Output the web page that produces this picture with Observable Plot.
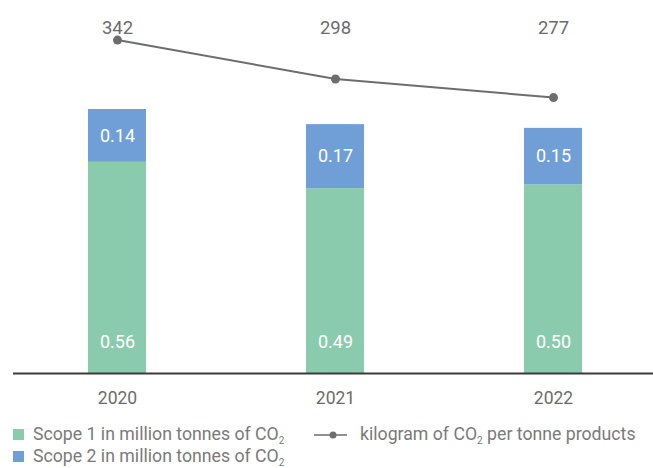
<!DOCTYPE html>
<html>
<head>
<meta charset="utf-8">
<script src="https://cdn.jsdelivr.net/npm/d3@7"></script>
<script src="https://cdn.jsdelivr.net/npm/@observablehq/plot@0.6"></script>
<style>
  html, body { margin: 0; padding: 0; background: #fff; }
  #wrap { position: relative; width: 653px; height: 468px; overflow: hidden; font-family: Roboto, sans-serif; }
  #wrap svg { position: absolute; left: 0; top: 0; }
  .legend { position: absolute; font-size: 17.7px; color: #7a7a7a; white-space: nowrap; line-height: 1; }
  .legend sub { font-size: 10px; vertical-align: -4px; line-height: 0; }
  .sw { position: absolute; width: 11px; height: 11px; }
</style>
</head>
<body>
<div id="wrap"></div>
<script>
const years = ["2020", "2021", "2022"];
const scope1 = [0.56, 0.49, 0.50];
const scope2 = [0.14, 0.17, 0.15];
const kgPerTonne = [342, 298, 277];
const seriesNames = ["Scope 1 in million tonnes of CO2", "Scope 2 in million tonnes of CO2"];
const lineName = "kilogram of CO2 per tonne products";
const colors = ["#8bcbad", "#6f9fd6"];
const lineColor = "#6d6d6d";

const wide = years.map((y, i) => ({year: y, s1: scope1[i], s2: scope2[i], kg: kgPerTonne[i]}));
const rows = years.flatMap((y, i) => [
  {year: y, scope: seriesNames[0], value: scope1[i]},
  {year: y, scope: seriesNames[1], value: scope2[i]}
]);
const fmt = v => v.toFixed(2);

const xScale = {type: "band", domain: years, range: [13.5, 656], paddingInner: 0.734, paddingOuter: 0.335};

const bars = Plot.plot({
  width: 653, height: 410,
  marginLeft: 13, marginRight: 0, marginTop: 0, marginBottom: 37,
  style: {fontFamily: "Roboto, sans-serif", fontSize: "17.5px", color: "#6b6b6b", background: "transparent", overflow: "visible"},
  x: {...xScale, label: null, tickSize: 0, tickPadding: 18},
  y: {domain: [0, 0.952], range: [373, 14], axis: null},
  color: {domain: seriesNames, range: colors},
  marks: [
    Plot.barY(rows, {x: "year", y: "value", fill: "scope"}),
    Plot.ruleY([0], {stroke: "#3a3a3a", strokeWidth: 2}),
    Plot.text(wide, {x: "year", y: d => d.s1 + d.s2 / 2, text: d => fmt(d.s2), fill: "white", fontSize: 18}),
    Plot.text(wide, {x: "year", y: () => 0, dy: -31, text: d => fmt(d.s1), fill: "white", fontSize: 18})
  ]
});

const line = Plot.plot({
  width: 653, height: 410,
  marginLeft: 13, marginRight: 0, marginTop: 0, marginBottom: 37,
  style: {fontFamily: "Roboto, sans-serif", background: "transparent", overflow: "visible"},
  x: {...xScale, axis: null},
  y: {domain: [0, 380], range: [342, 6], axis: null},
  marks: [
    Plot.line(wide, {x: "year", y: "kg", stroke: lineColor, strokeWidth: 2}),
    Plot.dot(wide, {x: "year", y: "kg", r: 4.5, fill: lineColor}),
    Plot.text(wide, {x: "year", frameAnchor: "top", dy: 20, text: d => String(d.kg), fill: "#6b6b6b", fontSize: 18.5})
  ]
});

const wrap = document.getElementById("wrap");
wrap.appendChild(bars);
wrap.appendChild(line);

function sub(name) { return name.replace("CO2", "CO<sub>2</sub>"); }
function addLegendSwatch(color, top, label) {
  const s = document.createElement("div");
  s.className = "sw";
  s.style.left = "13px"; s.style.top = top + "px"; s.style.background = color;
  wrap.appendChild(s);
  const t = document.createElement("div");
  t.className = "legend";
  t.style.left = "33px"; t.style.top = (top - 3) + "px";
  t.innerHTML = sub(label);
  wrap.appendChild(t);
}
addLegendSwatch(colors[0], 429, seriesNames[0]);
addLegendSwatch(colors[1], 451, seriesNames[1]);

const ls = document.createElementNS("http://www.w3.org/2000/svg", "svg");
ls.setAttribute("width", 34); ls.setAttribute("height", 12);
ls.style.left = "314px"; ls.style.top = "429px";
ls.innerHTML = `<line x1="0" x2="33" y1="6" y2="6" stroke="${lineColor}" stroke-width="1.5"/><circle cx="19" cy="6" r="3.5" fill="${lineColor}"/>`;
wrap.appendChild(ls);
const lt = document.createElement("div");
lt.className = "legend";
lt.style.left = "360px"; lt.style.top = "426px";
lt.innerHTML = sub(lineName);
wrap.appendChild(lt);
</script>
</body>
</html>
